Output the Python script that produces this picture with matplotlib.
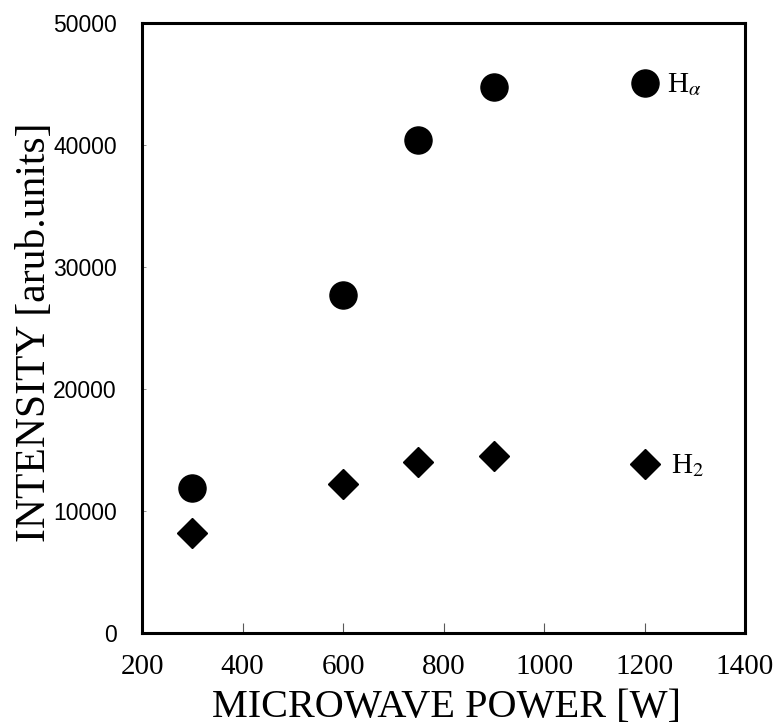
import matplotlib
matplotlib.use('Agg')
import matplotlib.pyplot as plt

plt.rcParams['mathtext.fontset'] = 'stix'

# microwave power [W]
power = [300, 600, 750, 900, 1200]
# emission intensity [arb. units]
h_alpha = [11900, 27700, 40400, 44750, 45100]
h2 = [8200, 12200, 14050, 14500, 13850]

x_ticks = [200, 400, 600, 800, 1000, 1200, 1400]
y_ticks = [0, 10000, 20000, 30000, 40000, 50000]

serif = 'Liberation Serif'
sans = 'Liberation Sans'

fig = plt.figure(figsize=(7.78, 7.28), dpi=100)
ax = fig.add_axes([142/778, 1 - 633/728, 603/778, 609.7/728])

ax.plot(power, h_alpha, 'o', color='black', markersize=19.5, linestyle='none')
ax.plot(power, h2, 'D', color='black', markersize=15, linestyle='none')

ax.annotate(r'H$_{\alpha}$', (power[-1], h_alpha[-1]), xytext=(16, -1),
            textcoords='offset points', va='center', ha='left',
            fontsize=21, family=serif)
ax.annotate(r'H$_{2}$', (power[-1], h2[-1]), xytext=(19, -1),
            textcoords='offset points', va='center', ha='left',
            fontsize=21, family=serif)

ax.set_xlim(200, 1400)
ax.set_ylim(0, 50000)
ax.set_xticks(x_ticks)
ax.set_yticks(y_ticks)
ax.set_xticklabels([str(v) for v in x_ticks], family=serif, fontsize=21)
ax.set_yticklabels([str(v) for v in y_ticks], family=sans, fontsize=16.5)
ax.tick_params(axis='x', direction='in', length=7, width=0.8, color='0.35', pad=15)
ax.tick_params(axis='y', direction='in', length=3, width=0.6, color='0.5', pad=18)

for spine in ax.spines.values():
    spine.set_linewidth(2.2)

ax.set_xlabel('MICROWAVE POWER [W]', family=serif, fontsize=29)
ax.set_ylabel('INTENSITY [arub.units]', family=serif, fontsize=30)
ax.xaxis.set_label_coords(0.505, -0.092)
ax.yaxis.set_label_coords(-0.146, 0.493)

fig.savefig('out.png', dpi=100)
